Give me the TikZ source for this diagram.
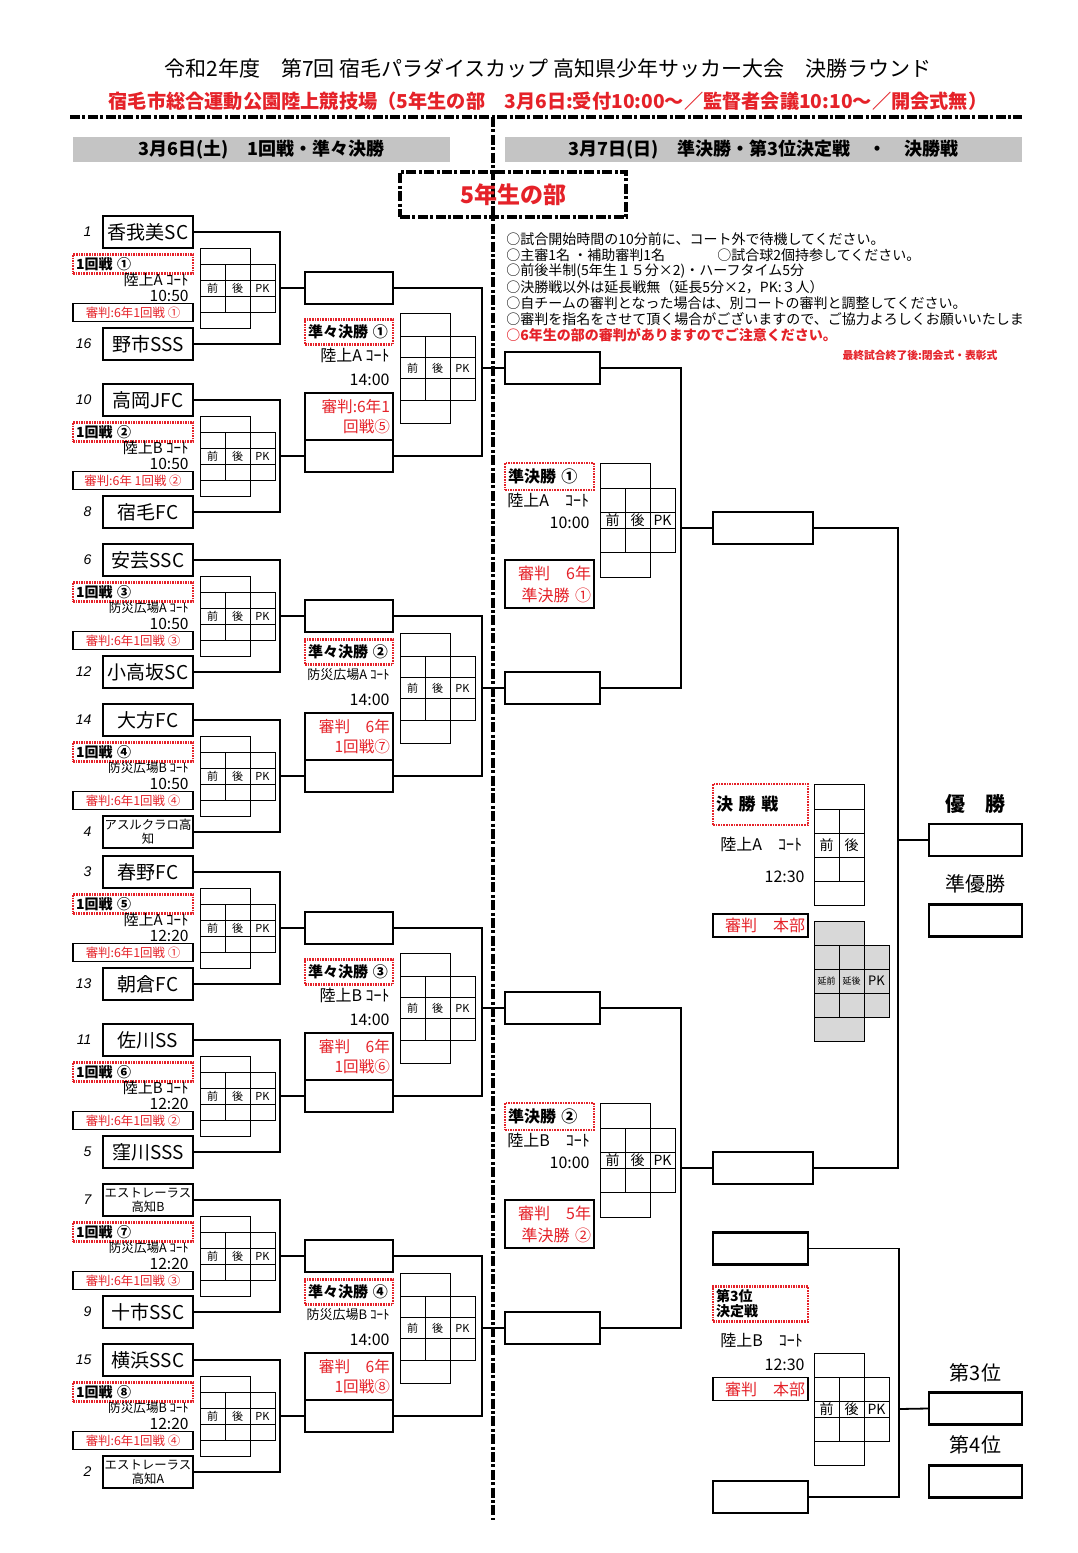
\documentclass[tikz,border=0pt]{standalone}
\usepackage{fontspec}
\setmainfont{Noto Sans CJK JP}
\newfontfamily\seedfont{Liberation Sans}
\usetikzlibrary{positioning,calc}
\definecolor{refred}{HTML}{E52229}
\definecolor{bargrey}{HTML}{C4C4C4}
\definecolor{cellgrey}{HTML}{D8D8D8}
\newcommand{\fs}[1]{\fontsize{#1}{#1}\selectfont}
% score grid: [fill]{left x}{centre y}{outer half}{middle half}{header half}{col1}{col2}
\newcommand{\mgrid}[8][white]{%
  \draw[cell,fill=#1] (#2,#3-#4) rectangle (#2+50,#3+#4);
  \draw[cell,fill=#1] (#2,#3-#5) rectangle (#2+75,#3+#5);
  \draw[cell] (#2,#3-#6) -- (#2+75,#3-#6) (#2,#3+#6) -- (#2+75,#3+#6)
              (#2+25,#3-#5) -- (#2+25,#3+#5) (#2+50,#3-#5) -- (#2+50,#3+#5);
  \node[gtxt] at (#2+12.5,#3) {#7};
  \node[gtxt] at (#2+37.5,#3) {#8};
  \node[gtxt] at (#2+62.5,#3) {PK};
}
\tikzset{
  team/.style={draw,line width=1.2pt,minimum width=45pt,minimum height=16pt,inner sep=0pt,align=center,font=\fs{9.5}},
  teamsm/.style={team,font=\fontsize{6.2}{7.2}\selectfont},
  seed/.style={font=\seedfont\itshape\fs{7},inner sep=0pt,label distance=5pt},
  winbox/.style={draw,line width=1.2pt,minimum width=44pt,minimum height=16pt,inner sep=0pt},
  sfbox/.style={winbox,minimum width=47.5pt},
  finbox/.style={winbox,minimum width=50pt},
  resbox/.style={winbox,minimum width=46.5pt},
  link/.style={line width=0.9pt},
  cell/.style={line width=0.5pt},
  gtxt/.style={font=\fs{5.5},inner sep=0pt},
  sep/.style={line width=1.6pt,dash pattern=on 5pt off 1.2pt on 1.5pt off 1.2pt},
  sepbox/.style={draw,sep,minimum width=113pt,minimum height=22.5pt,text=refred,font=\bfseries\fs{11.5}},
  hbar/.style={fill=bargrey,minimum height=12.5pt,inner sep=0pt,font=\bfseries\fs{9}},
  redlab/.style={draw=refred,line width=1.4pt,dash pattern=on 0.8pt off 0.5pt,inner sep=1.5pt,align=left},
  rlab/.style={redlab,minimum width=60pt,text width=57pt,minimum height=9pt,font=\bfseries\fs{7}},
  qlab/.style={redlab,minimum width=44pt,text width=41pt,minimum height=12.5pt,font=\bfseries\fs{7.5}},
  slab/.style={redlab,minimum width=44.5pt,text width=41.5pt,minimum height=13.5pt,font=\bfseries\fs{8}},
  flab/.style={redlab,minimum width=47.5pt,text width=44.5pt,minimum height=20.5pt,font=\bfseries\fs{8.5}},
  plab/.style={redlab,minimum width=47.5pt,text width=44.5pt,minimum height=16pt,font=\bfseries\fontsize{7}{7.6}\selectfont},
  refbox/.style={draw,line width=0.6pt,text=refred,inner sep=1.5pt},
  rref/.style={refbox,minimum width=60pt,minimum height=7.5pt,font=\fs{6.2}},
  qref/.style={refbox,minimum width=44pt,text width=41pt,minimum height=23.5pt,align=right,font=\fontsize{7.8}{10}\selectfont},
  sref/.style={refbox,minimum width=44.5pt,text width=41.5pt,minimum height=24pt,align=right,font=\fontsize{8}{11}\selectfont},
  fref/.style={refbox,minimum width=47.5pt,text width=44.5pt,minimum height=11.5pt,align=right,font=\fs{8}},
  crt/.style={inner sep=0pt,anchor=east},
  tm/.style={inner sep=0pt,anchor=east,font=\fs{7.8}},
  note/.style={anchor=west,inner sep=0pt,font=\fs{7}},
  place/.style={font=\fs{10}},
}
\begin{document}
\begin{tikzpicture}[x=0.5pt,y=-0.5pt]
\fill[white] (0,0) rectangle (1077,1553);
\useasboundingbox (0,0) rectangle (1077,1553);

% heading
\node[font=\fs{10.5}] (title) at (548,68) {令和2年度　第7回 宿毛パラダイスカップ 高知県少年サッカー大会　決勝ラウンド};
\node[font=\bfseries\fs{9.6},text=refred] (venue) at (548,101) {宿毛市総合運動公園陸上競技場（5年生の部　3月6日:受付10:00～／監督者会議10:10～／開会式無）};
\draw[sep] (70,117) -- (1022,117);
\draw[sep] (493,117) -- (493,1520);
\node[hbar,minimum width=188.5pt] (dayone) at (261.5,149.5) {3月6日(土)　1回戦・準々決勝};
\node[hbar,minimum width=258.5pt] (daytwo) at (763.5,149.5) {3月7日(日)　準決勝・第3位決定戦　・　決勝戦};
\node[sepbox] (grade) at (513,194.5) {5年生の部};

% notes
\node[note] (n1) at (506,239) {○試合開始時間の10分前に、コート外で待機してください。};
\node[note] (n2) at (506,255) {○主審1名 ・補助審判1名};
\node[note] (n2b) at (717,255) {○試合球2個持参してください。};
\node[note] (n3) at (506,271) {○前後半制(5年生１５分×2)・ハーフタイム5分};
\node[note] (n4) at (506,287) {○決勝戦以外は延長戦無（延長5分×2，PK:３人）};
\node[note] (n5) at (506,303) {○自チームの審判となった場合は、別コートの審判と調整してください。};
\node[note] (n6) at (506,319) {○審判を指名をさせて頂く場合がございますので、ご協力よろしくお願いいたしま};
\node[note,text=refred,font=\bfseries\fs{7}] (n7) at (506,335) {○6年生の部の審判がありますのでご注意ください。};
\node[text=refred,font=\bfseries\fs{5.4},inner sep=0pt] (n8) at (920,355) {最終試合終了後:閉会式・表彰式};

% teams
\node[team,label={[seed]left:1}] (ta1) at (148,232) {香我美SC};
\node[team,label={[seed]left:16}] (tb1) at (148,344) {野市SSS};
\node[team,label={[seed]left:10}] (ta2) at (148,400) {高岡JFC};
\node[team,label={[seed]left:8}] (tb2) at (148,512) {宿毛FC};
\node[team,label={[seed]left:6}] (ta3) at (148,560) {安芸SSC};
\node[team,label={[seed]left:12}] (tb3) at (148,672) {小高坂SC};
\node[team,label={[seed]left:14}] (ta4) at (148,720) {大方FC};
\node[teamsm,label={[seed]left:4}] (tb4) at (148,832) {アスルクラロ高\\知};
\node[team,label={[seed]left:3}] (ta5) at (148,872) {春野FC};
\node[team,label={[seed]left:13}] (tb5) at (148,984) {朝倉FC};
\node[team,label={[seed]left:11}] (ta6) at (148,1040) {佐川SS};
\node[team,label={[seed]left:5}] (tb6) at (148,1152) {窪川SSS};
\node[teamsm,label={[seed]left:7}] (ta7) at (148,1200) {エストレーラス\\高知B};
\node[team,label={[seed]left:9}] (tb7) at (148,1312) {十市SSC};
\node[team,label={[seed]left:15}] (ta8) at (148,1360) {横浜SSC};
\node[teamsm,label={[seed]left:2}] (tb8) at (148,1472) {エストレーラス\\高知A};

% round one
\foreach \k/\c/\cn/\cc/\hr/\rf in {
  1/288/①/{\fs{7.5}陸上A ｺｰﾄ}/10:50/{審判:6年1回戦 ①},
  2/456/②/{\fs{7.5}陸上B ｺｰﾄ}/10:50/{審判:6年 1回戦 ②},
  3/616/③/{\fs{6.3}防災広場A ｺｰﾄ}/10:50/{審判:6年1回戦 ③},
  4/776/④/{\fs{6.3}防災広場B ｺｰﾄ}/10:50/{審判:6年1回戦 ④},
  5/928/⑤/{\fs{7.5}陸上A ｺｰﾄ}/12:20/{審判:6年1回戦 ①},
  6/1096/⑥/{\fs{7.5}陸上B ｺｰﾄ}/12:20/{審判:6年1回戦 ②},
  7/1256/⑦/{\fs{6.3}防災広場A ｺｰﾄ}/12:20/{審判:6年1回戦 ③},
  8/1416/⑧/{\fs{6.3}防災広場B ｺｰﾄ}/12:20/{審判:6年1回戦 ④}}{
  \coordinate (j\k) at (280,\c);
  \draw[link] (ta\k.east) -| (j\k) |- (tb\k.east);
  \node[winbox] (w\k) at (349,\c) {};
  \draw[link] (j\k) -- (w\k.west);
  \mgrid{200}{\c}{40}{24}{8}{前}{後}
  \node[rlab] (lb\k) at (133,\c-24) {1回戦 \cn};
  \node[crt] (ct\k) at (189,\c-8) {\cc};
  \node[tm] (hr\k) at (189,\c+8) {\hr};
  \node[rref] (rf\k) at (133,\c+24.5) {\rf};
}

% quarter-finals
\foreach \q/\m/\cn/\cc/\rf in {
  1/368/①/{\fs{8}陸上A ｺｰﾄ}/{審判:6年1\\回戦⑤},
  2/688/②/{\fs{6.5}防災広場A ｺｰﾄ}/{審判　6年\\1回戦⑦},
  3/1008/③/{\fs{8}陸上B ｺｰﾄ}/{審判　6年\\1回戦⑥},
  4/1328/④/{\fs{6.5}防災広場B ｺｰﾄ}/{審判　6年\\1回戦⑧}}{
  \pgfmathtruncatemacro{\ua}{2*\q-1}
  \pgfmathtruncatemacro{\ub}{2*\q}
  \coordinate (q\q) at (482,\m);
  \draw[link] (w\ua.east) -| (q\q) |- (w\ub.east);
  \node[sfbox] (s\q) at (552.5,\m) {};
  \draw[link] (q\q) -- (s\q.west);
  \mgrid{400}{\m}{55}{32}{10.5}{前}{後}
  \node[qlab] (ql\q) at (349,\m-36) {準々決勝 \cn};
  \node[crt] (qc\q) at (390,\m-13) {\cc};
  \node[tm,font=\fs{8}] (qt\q) at (390,\m+12) {14:00};
  \node[qref] (qr\q) at (349,\m+48.5) {\rf};
}

% semi-finals
\node[finbox] (f1) at (763,528) {};
\node[finbox] (f2) at (763,1168) {};
\coordinate (k1) at (681,528);
\coordinate (k2) at (681,1168);
\draw[link] (s1.east) -| (k1) |- (s2.east);
\draw[link] (k1) -- (f1.west);
\draw[link] (s3.east) -| (k2) |- (s4.east);
\draw[link] (k2) -- (f2.west);
\begin{scope}[gtxt/.style={font=\fs{7},inner sep=0pt}]
  \mgrid{600}{520}{57}{32}{8}{前}{後}
  \mgrid{600}{1160}{57}{32}{8}{前}{後}
\end{scope}
\node[slab] (sl1) at (549.5,476.5) {準決勝 ①};
\node[note,font=\fs{8}] (sc1) at (507,500) {陸上A　ｺｰﾄ};
\node[tm,font=\fs{8}] (st1) at (590,523) {10:00};
\node[sref] (sr1) at (549.5,584) {審判　6年\\準決勝 ①};
\node[slab] (sl2) at (549.5,1116.5) {準決勝 ②};
\node[note,font=\fs{8}] (sc2) at (507,1140) {陸上B　ｺｰﾄ};
\node[tm,font=\fs{8}] (st2) at (590,1163) {10:00};
\node[sref] (sr2) at (549.5,1224) {審判　5年\\準決勝 ②};

% final
\node[resbox] (champ) at (975.5,840) {};
\node[resbox] (runner) at (975.5,920.5) {};
\node[place,font=\bfseries\fs{10}] (champlbl) at (975.5,804) {優　勝};
\node[place] (runnerlbl) at (975.5,884) {準優勝};
\coordinate (kf) at (898,840);
\draw[link] (f1.east) -| (kf) |- (f2.east);
\draw[link] (kf) -- (champ.west);
\node[flab] (fl) at (760.5,804.5) {決 勝 戦};
\node[note,font=\fs{8}] (fc) at (720,844) {陸上A　ｺｰﾄ};
\node[tm,font=\fs{8}] (ft) at (805,877) {12:30};
\node[fref] (fr) at (760.5,925.5) {審判　本部};
\draw[cell] (814,784) rectangle (864,905);
\draw[cell] (814,809) -- (864,809) (814,833) -- (864,833) (814,857) -- (864,857)
            (814,881) -- (864,881) (839,809) -- (839,881);
\node[gtxt,font=\fs{7}] (fg1) at (826.5,845) {前};
\node[gtxt,font=\fs{7}] (fg2) at (851.5,845) {後};
\begin{scope}[gtxt/.style={font=\fs{6.5},inner sep=0pt}]
  \mgrid[cellgrey]{814}{981}{60}{36}{12}{\fs{4.5}延前}{\fs{4.5}延後}
\end{scope}

% third place
\node[sfbox] (p1) at (760.5,1248.5) {};
\node[sfbox] (p2) at (760.5,1497) {};
\node[resbox] (third) at (975.5,1408.5) {};
\node[resbox] (fourth) at (975.5,1481.5) {};
\node[place] (thirdlbl) at (975.5,1373) {第3位};
\node[place] (fourthlbl) at (975.5,1445) {第4位};
\coordinate (kp) at (899,1409);
\draw[link] (p1.east) -| (kp) |- (p2.east);
\draw[link] (kp) -- (third.west);
\node[plab] (pl) at (760.5,1304) {第3位\\決定戦};
\node[note,font=\fs{8}] (pc) at (720,1340) {陸上B　ｺｰﾄ};
\node[tm,font=\fs{8}] (pt) at (805,1365) {12:30};
\node[fref] (pr) at (760.5,1389) {審判　本部};
\begin{scope}[gtxt/.style={font=\fs{7},inner sep=0pt}]
  \mgrid{814}{1409}{56}{32}{8}{前}{後}
\end{scope}
\end{tikzpicture}
\end{document}
